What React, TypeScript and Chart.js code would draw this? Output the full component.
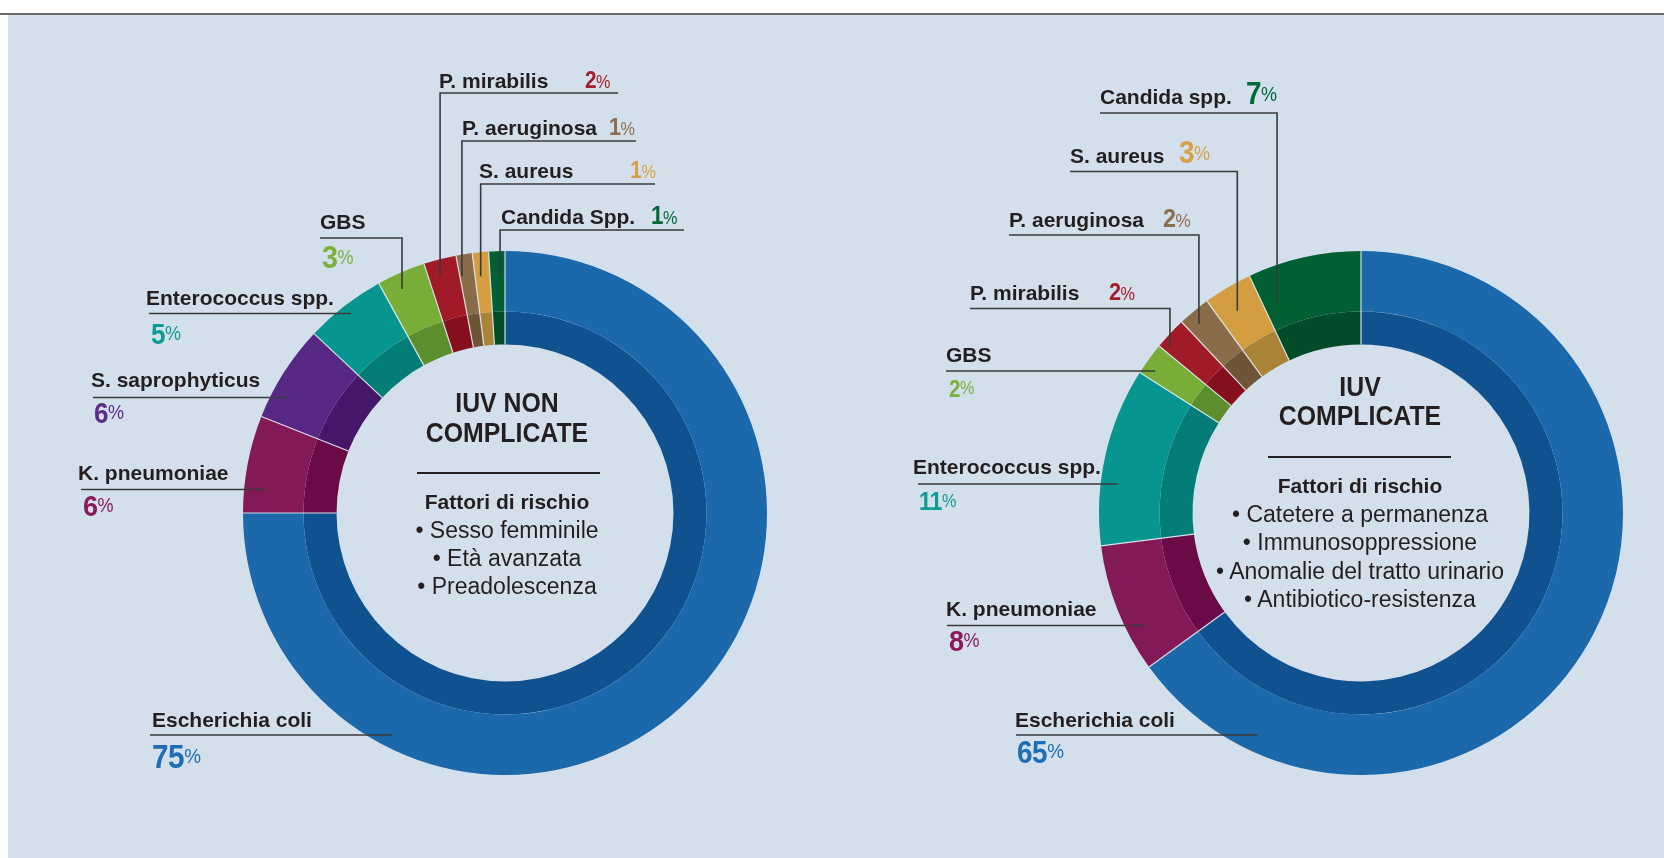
import React, { useEffect, useRef } from "react";
import { Chart, registerables } from "chart.js";

Chart.register(...registerables);

// ---------------- data ----------------
const leftCategories = [
  "Escherichia coli",
  "K. pneumoniae",
  "S. saprophyticus",
  "Enterococcus spp.",
  "GBS",
  "P. mirabilis",
  "P. aeruginosa",
  "S. aureus",
  "Candida Spp.",
];
const leftValues = [75, 6, 6, 5, 3, 2, 1, 1, 1];

const rightCategories = [
  "Escherichia coli",
  "K. pneumoniae",
  "Enterococcus spp.",
  "GBS",
  "P. mirabilis",
  "P. aeruginosa",
  "S. aureus",
  "Candida spp.",
];
const rightValues = [65, 8, 11, 2, 2, 2, 3, 7];

const leftTitle = ["IUV NON", "COMPLICATE"];
const rightTitle = ["IUV", "COMPLICATE"];
const riskHeading = "Fattori di rischio";
const leftRisks = ["Sesso femminile", "Età avanzata", "Preadolescenza"];
const rightRisks = [
  "Catetere a permanenza",
  "Immunosoppressione",
  "Anomalie del tratto urinario",
  "Antibiotico-resistenza",
];

// ---------------- styles ----------------
const W = 1664;
const H = 858;
const FONT = "'Liberation Sans', Arial, sans-serif";
const INK = "#231f20";
const PANEL = "#d3e0eb";
const LINE = "#3a3a3a";
const SEP = "rgba(228,236,243,0.9)";

const palette: Record<string, { outer: string; inner: string; text: string }> = {
  "escherichia coli": { outer: "#1b68ab", inner: "#10528f", text: "#1f6db3" },
  "k. pneumoniae": { outer: "#841958", inner: "#6a0a47", text: "#8b1a5d" },
  "s. saprophyticus": { outer: "#562884", inner: "#461668", text: "#5b2c88" },
  "enterococcus spp.": { outer: "#06958f", inner: "#057d77", text: "#0d9b95" },
  gbs: { outer: "#78ad38", inner: "#5c8e2d", text: "#7bb03c" },
  "p. mirabilis": { outer: "#a01a28", inner: "#860f1e", text: "#a51d2d" },
  "p. aeruginosa": { outer: "#8b6c48", inner: "#6e5535", text: "#8e6f4b" },
  "s. aureus": { outer: "#d49e40", inner: "#a98336", text: "#d8a043" },
  "candida spp.": { outer: "#005f33", inner: "#004b28", text: "#00693a" },
};
const col = (name: string) => palette[name.toLowerCase()];

type LabelSpec = {
  i: number;
  nx: number;
  nb: number;
  px: number;
  pb: number;
  d: number;
  p: number;
  r: number;
  ux: number;
  uy: number;
  kind: "v" | "h";
  frac: number;
  depth: number;
};

const leftLabels: LabelSpec[] = [
  { i: 0, nx: 152, nb: 727, px: 152, pb: 768, d: 33, p: 21, r: 5, ux: 150, uy: 735, kind: "h", frac: 0.5, depth: 13 },
  { i: 1, nx: 78, nb: 480, px: 83, pb: 516, d: 30, p: 20, r: 4, ux: 81, uy: 489.5, kind: "h", frac: 0.5, depth: 21.5 },
  { i: 2, nx: 91, nb: 387, px: 94, pb: 424, d: 29, p: 20, r: 4, ux: 93, uy: 397.5, kind: "h", frac: 0.5, depth: 16 },
  { i: 3, nx: 146, nb: 305, px: 151, pb: 345, d: 29, p: 20, r: 4, ux: 149, uy: 313.5, kind: "h", frac: 0.5, depth: 10 },
  { i: 4, nx: 320, nb: 229, px: 322, pb: 268, d: 32, p: 20, r: 4, ux: 320, uy: 238, kind: "v", frac: 0.38, depth: 15.5 },
  { i: 5, nx: 439, nb: 88, px: 585, pb: 88, d: 23, p: 18, r: 0, ux: 618, uy: 93, kind: "v", frac: 0.375, depth: 16 },
  { i: 6, nx: 462, nb: 135, px: 609, pb: 135, d: 24, p: 18, r: 0, ux: 636, uy: 141, kind: "v", frac: 0.14, depth: 21 },
  { i: 7, nx: 479, nb: 178, px: 630, pb: 178, d: 24, p: 18, r: 0, ux: 655, uy: 184, kind: "v", frac: 0.37, depth: 24 },
  { i: 8, nx: 501, nb: 224, px: 651, pb: 224, d: 25, p: 18, r: 0, ux: 684, uy: 230, kind: "v", frac: 0.67, depth: 25 },
];

const rightLabels: LabelSpec[] = [
  { i: 0, nx: 1015, nb: 727, px: 1017, pb: 763, d: 31, p: 21, r: 5, ux: 1016, uy: 735, kind: "h", frac: 0.5, depth: 17 },
  { i: 1, nx: 946, nb: 616, px: 949, pb: 651, d: 30, p: 20, r: 4, ux: 947, uy: 625.5, kind: "h", frac: 0.5, depth: 18.5 },
  { i: 2, nx: 913, nb: 474, px: 919, pb: 510, d: 25, p: 18, r: 3, ux: 918, uy: 484, kind: "h", frac: 0.5, depth: 17 },
  { i: 3, nx: 946, nb: 362, px: 949, pb: 397, d: 23, p: 18, r: 3, ux: 946, uy: 371, kind: "h", frac: 0.5, depth: 12 },
  { i: 4, nx: 970, nb: 300, px: 1109, pb: 300, d: 24, p: 18, r: 0, ux: 970, uy: 308.5, kind: "v", frac: 0.19, depth: 9 },
  { i: 5, nx: 1009, nb: 227, px: 1163, pb: 227, d: 26, p: 19, r: 0, ux: 1009, uy: 235, kind: "v", frac: 0.36, depth: 13 },
  { i: 6, nx: 1070, nb: 163, px: 1179, pb: 163, d: 31, p: 20, r: 3, ux: 1070, uy: 171.5, kind: "v", frac: 0.42, depth: 25 },
  { i: 7, nx: 1100, nb: 104, px: 1246, pb: 104, d: 31, p: 20, r: 3, ux: 1100, uy: 113, kind: "v", frac: 0.135, depth: 36 },
];

type DonutSpec = {
  categories: string[];
  values: number[];
  cx: number;
  cy: number;
  size: number;
  labels: LabelSpec[];
  title: string[];
  titleBase: number[];
  textCx: number;
  sepY: number;
  sepX1: number;
  sepX2: number;
  headBase: number;
  risks: string[];
  riskBase: number;
  riskStep: number;
};

const leftSpec: DonutSpec = {
  categories: leftCategories,
  values: leftValues,
  cx: 505,
  cy: 513,
  size: 524,
  labels: leftLabels,
  title: leftTitle,
  titleBase: [413, 443],
  textCx: 507,
  sepY: 473,
  sepX1: 417,
  sepX2: 600,
  headBase: 509,
  risks: leftRisks,
  riskBase: 538,
  riskStep: 28.3,
};

const rightSpec: DonutSpec = {
  categories: rightCategories,
  values: rightValues,
  cx: 1361,
  cy: 513,
  size: 524,
  labels: rightLabels,
  title: rightTitle,
  titleBase: [397, 426],
  textCx: 1360,
  sepY: 457,
  sepX1: 1268,
  sepX2: 1451,
  headBase: 493,
  risks: rightRisks,
  riskBase: 522,
  riskStep: 28.5,
};

// baseline helper for Liberation Sans metrics (ascent .905, descent .212, line-height 1)
const topFor = (base: number, size: number) => base - 0.8465 * size;

function Txt(props: {
  x: number;
  base: number;
  size: number;
  weight?: number;
  color?: string;
  center?: boolean;
  sx?: number;
  children: React.ReactNode;
}) {
  const { x, base, size, weight = 400, color = INK, center, sx = 1, children } = props;
  return (
    <div
      style={{
        position: "absolute",
        left: center ? x - 300 : x,
        width: center ? 600 : undefined,
        textAlign: center ? "center" : "left",
        top: topFor(base, size),
        fontSize: size,
        lineHeight: 1,
        fontWeight: weight,
        color,
        fontFamily: FONT,
        whiteSpace: "nowrap",
        transform: sx !== 1 ? `scaleX(${sx})` : undefined,
        transformOrigin: center ? "50% 50%" : "0 50%",
      }}
    >
      {children}
    </div>
  );
}

function makeLeaderPlugin(labels: LabelSpec[]) {
  return {
    id: "leaders",
    afterDatasetsDraw(chart: any) {
      const ctx = chart.ctx as CanvasRenderingContext2D;
      const outer = chart.getDatasetMeta(0).data;
      const inner = chart.getDatasetMeta(1).data;
      ctx.save();
      // thin light separators between slices
      ctx.strokeStyle = SEP;
      ctx.lineWidth = 1.2;
      outer.forEach((arc: any, k: number) => {
        const p = arc.getProps(["x", "y", "startAngle", "outerRadius"], true);
        const rin = inner[k].getProps(["innerRadius"], true).innerRadius;
        const a = p.startAngle;
        ctx.beginPath();
        ctx.moveTo(p.x + rin * Math.cos(a), p.y + rin * Math.sin(a));
        ctx.lineTo(p.x + p.outerRadius * Math.cos(a), p.y + p.outerRadius * Math.sin(a));
        ctx.stroke();
      });
      // leader lines
      ctx.strokeStyle = LINE;
      ctx.lineWidth = 1.6;
      labels.forEach((l) => {
        const p = outer[l.i].getProps(["x", "y", "startAngle", "endAngle", "outerRadius"], true);
        const R = p.outerRadius - l.depth;
        ctx.beginPath();
        if (l.kind === "v") {
          const a = p.startAngle + (p.endAngle - p.startAngle) * l.frac;
          const ax = p.x + R * Math.cos(a);
          const ay = p.y + R * Math.sin(a);
          ctx.moveTo(l.ux, l.uy);
          ctx.lineTo(ax, l.uy);
          ctx.lineTo(ax, ay);
        } else {
          const dy = l.uy - p.y;
          const ax = p.x - Math.sqrt(Math.max(R * R - dy * dy, 0));
          ctx.moveTo(l.ux, l.uy);
          ctx.lineTo(ax, l.uy);
        }
        ctx.stroke();
      });
      ctx.restore();
    },
  };
}

function Donut({ spec }: { spec: DonutSpec }) {
  const ref = useRef<HTMLCanvasElement>(null);
  useEffect(() => {
    const half = spec.size / 2;
    const chart = new Chart(ref.current!, {
      type: "doughnut",
      data: {
        labels: spec.categories,
        datasets: [
          {
            data: spec.values,
            backgroundColor: spec.categories.map((c) => col(c).outer),
            borderWidth: 0,
            hoverBorderWidth: 0,
            hoverOffset: 0,
            weight: 60.5,
          } as any,
          {
            data: spec.values,
            backgroundColor: spec.categories.map((c) => col(c).inner),
            borderWidth: 0,
            hoverBorderWidth: 0,
            hoverOffset: 0,
            weight: 33,
          } as any,
        ],
      },
      options: {
        responsive: false,
        animation: false,
        devicePixelRatio: 1,
        events: [],
        cutout: "64.3%",
        layout: {
          padding: {
            left: spec.cx - half,
            right: W - (spec.cx + half),
            top: spec.cy - half,
            bottom: H - (spec.cy + half),
          },
        },
        plugins: {
          legend: { display: false },
          tooltip: { enabled: false },
        },
      } as any,
      plugins: [makeLeaderPlugin(spec.labels)],
    });
    return () => chart.destroy();
  }, [spec]);

  return (
    <>
      <canvas
        ref={ref}
        width={W}
        height={H}
        style={{ position: "absolute", left: 0, top: 0, width: W, height: H }}
      />
      {spec.labels.map((l) => {
        const name = spec.categories[l.i];
        const c = col(name);
        return (
          <React.Fragment key={name}>
            <Txt x={l.nx} base={l.nb} size={21} weight={700}>
              {name}
            </Txt>
            <div
              style={{
                position: "absolute",
                left: l.px,
                top: topFor(l.pb, l.d),
                fontSize: l.d,
                lineHeight: 1,
                fontWeight: 700,
                color: c.text,
                fontFamily: FONT,
                whiteSpace: "nowrap",
                letterSpacing: -0.5,
                transform: "scaleX(0.9)",
                transformOrigin: "0 50%",
              }}
            >
              {spec.values[l.i]}
              <span style={{ fontSize: l.p, fontWeight: 400, verticalAlign: l.r, letterSpacing: 0 }}>%</span>
            </div>
          </React.Fragment>
        );
      })}
      {spec.title.map((t, k) => (
        <Txt key={t} x={spec.textCx} base={spec.titleBase[k]} size={27} weight={700} center sx={0.92}>
          {t}
        </Txt>
      ))}
      <div
        style={{
          position: "absolute",
          left: spec.sepX1,
          top: spec.sepY - 1,
          width: spec.sepX2 - spec.sepX1,
          height: 2,
          background: INK,
        }}
      />
      <Txt x={spec.textCx} base={spec.headBase} size={21} weight={700} center>
        {riskHeading}
      </Txt>
      {spec.risks.map((r, k) => (
        <Txt key={r} x={spec.textCx} base={spec.riskBase + k * spec.riskStep} size={23} center>
          {"• " + r}
        </Txt>
      ))}
    </>
  );
}

export default function App() {
  return (
    <div
      style={{
        position: "fixed",
        left: 0,
        top: 0,
        width: W,
        height: H,
        overflow: "hidden",
        background: "#ffffff",
        fontFamily: FONT,
      }}
    >
      <div style={{ position: "absolute", left: 0, top: 13, width: W, height: 2, background: "#6a6a6a" }} />
      <div style={{ position: "absolute", left: 8, top: 15, width: W - 8, height: H - 15, background: PANEL }} />
      <Donut spec={leftSpec} />
      <Donut spec={rightSpec} />
    </div>
  );
}
